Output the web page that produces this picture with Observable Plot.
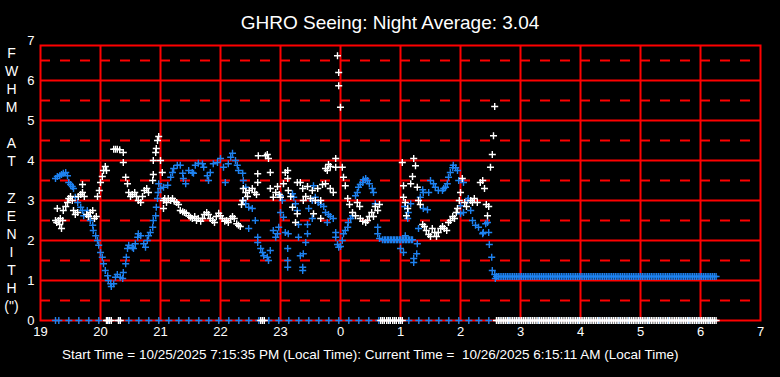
<!DOCTYPE html>
<html>
<head>
<meta charset="utf-8">
<script src="https://cdn.jsdelivr.net/npm/d3@7"></script>
<script src="https://cdn.jsdelivr.net/npm/@observablehq/plot@0.6"></script>
<style>
html, body { margin: 0; padding: 0; background: #000; }
#wrap { position: relative; width: 780px; height: 377px; background: #000; overflow: hidden;
  font-family: "Liberation Sans", Arial, sans-serif; color: #fff; }
#title { position: absolute; left: 0; top: 13px; width: 780px; text-align: center; font-size: 19px; line-height: 19px; white-space: nowrap; }
#ylab { position: absolute; left: 0; top: 44px; width: 23px; text-align: center; font-size: 14px; }
#ylab div { height: 18.07px; line-height: 18.07px; }
#caption { position: absolute; left: 62px; top: 348px; font-size: 13.5px; line-height: 14px; white-space: pre; }
#chart { position: absolute; left: 0; top: 0; }
</style>
</head>
<body>
<div id="wrap">
  <div id="chart"></div>
  <div id="title"></div>
  <div id="ylab"></div>
  <div id="caption"></div>
</div>
<script>
// ---- text ----
const titleText = "GHRO Seeing: Night Average: 3.04";
const yLabelLetters = ["F", "W", "H", "M", "", "A", "T", "", "Z", "E", "N", "I", "T", "H", "(\")"];
const captionText = "Start Time = 10/25/2025 7:15:35 PM (Local Time): Current Time =  10/26/2025 6:15:11 AM (Local Time)";

// ---- axes ----
const hourTicks = [19, 20, 21, 22, 23, 24, 25, 26, 27, 28, 29, 30, 31];   // shown as hour of day
const yTicks = [0, 1, 2, 3, 4, 5, 6, 7];
const majorY = [1, 2, 3, 4, 5, 6];
const minorY = [0.5, 1.5, 2.5, 3.5, 4.5, 5.5, 6.5];

// ---- blue series: [hour since 19:00 clock (24+ = after midnight), FWHM] ----
const bluePoints = [
[19.25,3.55],[19.28,3.6],[19.32,3.62],[19.35,3.65],[19.38,3.68],[19.42,3.7],[19.45,3.62],[19.47,3.45],[19.50,3.4],[19.53,3.35],
[19.55,3.3],[19.58,3.08],[19.62,2.95],[19.67,2.83],[19.70,2.75],[19.72,2.62],[19.78,2.75],[19.80,2.62],[19.83,2.5],[19.87,2.38],
[19.88,2.25],[19.92,2.12],[19.95,2.0],[19.97,1.88],[20.00,1.7],[20.03,1.58],[20.05,1.42],[20.08,1.25],[20.12,1.12],[20.13,1.0],
[20.17,0.92],[20.18,0.85],[20.22,0.92],[20.25,1.08],[20.28,1.15],[20.33,1.08],[20.37,1.05],[20.38,1.2],[20.42,1.42],[20.43,1.58],
[20.45,1.8],[20.47,1.88],[20.53,1.83],[20.55,1.8],[20.58,1.92],[20.62,2.08],[20.63,2.17],[20.67,2.12],[20.72,1.92],[20.75,1.83],
[20.78,2.0],[20.80,2.12],[20.83,2.2],[20.87,2.33],[20.88,2.5],[20.92,2.62],[20.93,2.83],[20.95,3.05],[20.96,3.2],[20.97,3.42],
[21.00,3.3],[21.05,3.33],[21.12,3.38],[21.17,3.58],[21.20,3.7],[21.22,3.8],[21.28,3.88],[21.33,3.88],[21.37,3.68],[21.38,3.55],
[21.42,3.42],[21.47,3.75],[21.53,3.7],[21.55,3.68],[21.58,3.88],[21.63,3.93],[21.70,3.92],[21.72,3.83],[21.78,3.62],[21.80,3.5],
[21.83,3.7],[21.88,3.92],[21.95,3.95],[22.00,4.05],[22.05,3.83],[22.08,3.45],[22.13,3.92],[22.17,4.08],[22.20,4.18],[22.25,4.0],
[22.28,3.88],[22.30,3.75],[22.37,3.68],[22.38,3.5],[22.42,3.33],[22.38,3.0],[22.42,2.92],[22.47,2.83],[22.53,2.8],[22.58,2.5],
[22.47,2.3],[22.62,2.08],[22.62,1.95],[22.67,1.8],[22.70,1.7],[22.72,1.62],[22.78,1.58],[22.80,1.5],[22.83,1.75],[22.88,2.25],
[22.92,2.08],[22.95,2.17],[22.97,2.33],[23.00,2.7],[23.00,3.12],[23.03,3.0],[23.05,2.58],[23.08,2.2],[23.12,1.8],[23.12,1.5],
[23.12,1.33],[23.13,2.17],[23.20,3.17],[23.22,3.08],[23.25,2.92],[23.28,2.75],[23.30,2.4],[23.30,2.08],[23.33,1.62],[23.37,1.33],
[23.37,1.25],[23.38,1.67],[23.42,1.95],[23.45,2.4],[23.45,2.17],[23.47,2.8],[23.53,3.0],[23.53,2.55],[23.55,3.37],[23.58,3.08],
[23.63,2.95],[23.67,2.9],[23.72,2.85],[23.75,2.7],[23.78,2.45],[23.80,2.65],[23.83,2.6],[23.88,2.55],[23.92,2.2],[23.92,2.08],
[23.95,1.9],[23.97,1.83],[24.00,1.85],[24.03,2.0],[24.05,2.17],[24.08,2.25],[24.12,2.33],[24.13,2.45],[24.17,2.55],[24.20,2.62],
[24.25,3.12],[24.28,3.2],[24.30,3.33],[24.33,3.4],[24.37,3.45],[24.38,3.52],[24.42,3.55],[24.45,3.5],[24.48,3.42],[24.53,3.3],
[24.55,3.2],[24.58,2.92],[24.62,2.33],[24.62,2.17],[24.65,2.05],
[24.70,2.02],[24.73,2.02],[24.75,2.02],[24.78,2.02],[24.80,2.02],[24.83,2.02],[24.85,2.02],[24.88,2.02],[24.90,2.02],[24.93,2.02],
[24.95,2.02],[24.98,2.02],[25.00,2.02],[25.03,2.02],[25.05,2.02],[25.08,2.02],[25.10,2.02],[25.13,2.02],[25.15,2.02],[25.18,2.02],[25.20,2.02],
[25.00,1.8],[25.05,1.7],[25.07,2.85],[25.08,2.12],[25.12,2.55],[25.13,2.7],[25.17,2.92],[25.22,1.55],[25.22,1.45],[25.27,1.67],
[25.28,1.92],[25.30,2.3],[25.33,3.08],[25.37,3.27],[25.38,3.2],[25.38,2.8],[25.45,2.77],[25.47,3.2],[25.50,3.5],[25.55,3.42],
[25.58,3.33],[25.63,3.25],[25.70,3.25],[25.72,3.3],[25.75,3.33],[25.78,3.42],[25.80,3.58],[25.83,3.7],[25.87,3.82],[25.88,3.88],
[25.92,3.82],[25.95,3.75],[25.97,3.5],[26.05,3.45],[26.00,2.87],[26.00,2.67],[26.05,2.7],[26.12,3.0],[26.13,3.05],[26.17,2.75],
[26.20,2.5],[26.25,2.38],[26.30,2.33],[26.37,2.17],[26.38,2.2],[26.42,2.42],[26.45,2.45],[26.47,2.2],[26.48,1.9],[26.52,1.58],
[26.53,1.25],[26.57,1.15],[26.58,1.05]
];
// blue flat stretch after 02:36 (constant value)
const blueFlatStart = 26.60, blueFlatEnd = 30.28, blueFlatValue = 1.1;

// ---- white series ----
const whitePoints = [
[19.25,2.5],[19.27,2.45],[19.28,2.8],[19.30,2.5],[19.32,2.4],[19.33,2.55],[19.35,2.3],[19.37,2.5],[19.38,2.75],[19.42,2.85],
[19.45,2.95],[19.47,3.05],[19.50,3.1],[19.53,3.0],[19.55,2.75],[19.58,2.65],[19.62,2.7],[19.63,3.1],[19.67,3.15],[19.70,3.2],
[19.70,3.4],[19.73,3.1],[19.77,2.65],[19.80,2.6],[19.83,2.7],[19.87,2.75],[19.90,2.55],[19.93,2.6],[19.95,3.1],[19.98,3.25],
[20.00,3.45],[20.03,3.6],[20.05,3.75],[20.08,3.85],[20.10,3.75],[20.22,4.28],[20.25,4.28],[20.28,4.28],[20.32,4.27],[20.38,4.2],
[20.38,3.95],[20.42,3.58],[20.45,3.42],[20.47,3.2],[20.50,3.1],[20.53,3.15],[20.57,3.2],[20.60,3.1],[20.63,3.0],[20.67,2.95],
[20.70,3.1],[20.73,3.25],[20.77,3.3],[20.80,3.2],[20.87,3.5],[20.88,3.65],[20.88,4.0],[20.92,4.2],[20.93,4.3],[20.95,4.5],
[20.97,4.6],[21.00,4.0],[21.03,3.7],[21.05,3.0],[21.05,2.8],[21.07,3.05],[21.10,2.95],[21.13,3.05],[21.17,3.0],[21.20,3.05],
[21.23,2.98],[21.27,2.95],[21.30,2.9],[21.33,2.75],[21.37,2.72],[21.40,2.7],[21.43,2.68],[21.47,2.62],[21.50,2.58],[21.53,2.55],
[21.57,2.6],[21.60,2.5],[21.63,2.55],[21.67,2.48],[21.70,2.55],[21.73,2.65],[21.77,2.7],[21.80,2.65],[21.83,2.55],[21.87,2.5],
[21.90,2.45],[21.93,2.6],[21.97,2.68],[22.00,2.62],[22.03,2.55],[22.07,2.48],[22.10,2.5],[22.13,2.45],[22.17,2.55],[22.20,2.6],
[22.23,2.55],[22.27,2.42],[22.30,2.38],[22.33,2.35],[22.35,2.9],[22.37,3.0],[22.38,3.3],[22.42,3.2],[22.45,3.1],[22.48,3.25],
[22.53,3.3],[22.57,3.2],[22.60,3.15],[22.62,3.45],[22.62,3.67],[22.63,4.12],[22.75,4.12],[22.78,4.15],[22.80,4.05],[22.83,3.7],
[22.83,3.3],[22.88,3.08],[22.92,3.2],[22.95,3.35],[22.98,3.15],
[23.00,3.08],[23.05,3.42],[23.08,3.7],[23.12,3.75],[23.12,3.55],[23.13,3.25],[23.17,3.1],[23.20,2.83],[23.25,2.45],[23.28,2.67],
[23.28,3.45],[23.33,3.45],[23.37,3.3],[23.38,3.0],[23.42,3.1],[23.45,3.35],[23.50,3.05],[23.53,3.25],[23.55,2.67],[23.58,3.0],
[23.62,3.3],[23.67,2.55],[23.67,3.0],[23.70,3.4],[23.75,3.8],[23.75,3.42],[23.78,3.75],[23.80,3.9],[23.83,3.85],[23.83,3.3],
[23.88,3.2],[23.92,4.05],[23.92,3.83],[23.95,6.62],[23.97,6.2],[23.97,5.87],[24.00,5.33],[24.03,3.83],[24.05,3.58],[24.08,3.37],
[24.12,3.05],[24.15,2.9],[24.20,2.7],[24.25,2.62],[24.28,2.95],[24.32,2.85],[24.33,2.55],[24.37,2.48],[24.42,2.45],[24.45,2.5],
[24.48,2.6],[24.52,2.7],[24.55,2.6],[24.58,2.85],[24.62,2.75],[24.65,2.9],
[25.03,3.95],[25.05,3.37],[25.05,3.08],[25.08,2.95],[25.10,2.62],[25.12,2.8],[25.17,3.42],[25.20,3.6],[25.22,4.05],[25.25,3.87],
[25.28,3.33],[25.30,3.0],[25.33,2.9],[25.37,2.4],[25.40,2.35],[25.43,2.25],[25.47,2.15],[25.50,2.1],[25.53,2.3],[25.57,2.2],
[25.60,2.1],[25.63,2.2],[25.67,2.3],[25.70,2.35],[25.73,2.3],[25.77,2.25],[25.80,2.45],[25.83,2.5],[25.87,2.6],[25.90,2.55],
[25.93,2.7],[25.95,2.8],[25.98,3.0],[26.00,3.2],[26.03,3.55],[26.07,2.95],[26.10,2.85],[26.17,3.0],[26.20,2.95],[26.23,3.05],
[26.28,2.95],[26.33,3.45],[26.37,3.5],[26.40,3.3],[26.43,2.9],[26.45,2.62],[26.47,2.85],[26.50,3.83],[26.53,4.15],[26.55,4.62],
[26.57,5.35]
];
// white readings sitting on zero
const whiteZeroHours = [20.10,20.12,20.15,20.18,20.30,20.33,22.67,22.70,22.73,24.67,24.70,24.73,24.77,24.80,24.83,24.87,24.90,24.93,24.97,25.00,25.03];
const whiteZeroStart = 26.60, whiteZeroEnd = 30.28;
// blue zero row: one reading every 10 minutes on the logging clock
const blueZeroExtra = [19.25];
const blueZeroStart = 19.305, blueZeroEnd = 30.2, blueZeroStep = 1 / 6;

const BLUE = "#1e82f0";
const RED = "#ff0000";

// ---- build ----
document.getElementById("title").textContent = titleText;
document.getElementById("caption").textContent = captionText;
const yl = document.getElementById("ylab");
for (const ch of yLabelLetters) { const d = document.createElement("div"); d.textContent = ch || "\u00a0"; yl.appendChild(d); }

const blueData = bluePoints.map(([h, v]) => ({h, v}));
const whiteData = whitePoints.map(([h, v]) => ({h, v}));
const blueFlat = d3.range(blueFlatStart, blueFlatEnd, 0.03).map(h => ({h, v: blueFlatValue}));
const whiteZero = whiteZeroHours.concat(d3.range(whiteZeroStart, whiteZeroEnd, 0.03)).map(h => ({h, v: 0}));
const blueZero = blueZeroExtra.concat(d3.range(blueZeroStart, blueZeroEnd, blueZeroStep)).map(h => ({h, v: 0}));

const dotOpts = {x: "h", y: "v", symbol: "plus", r: 2.4, strokeWidth: 1.4};

const chart = Plot.plot({
  width: 780,
  height: 377,
  marginLeft: 40,
  marginRight: 20,
  marginTop: 45,
  marginBottom: 57,
  style: {background: "transparent", color: "white", fontFamily: "'Liberation Sans', Arial, sans-serif"},
  x: {domain: [19, 31]},
  y: {domain: [0, 6.875]},
  marks: [
    Plot.ruleY(minorY, {stroke: RED, strokeWidth: 2, strokeDasharray: "10,10"}),
    Plot.ruleY(majorY, {stroke: RED, strokeWidth: 2}),
    Plot.ruleX(hourTicks.slice(1, -1), {stroke: RED, strokeWidth: 2}),
    Plot.frame({stroke: RED, strokeWidth: 2}),
    Plot.axisX({ticks: hourTicks, tickFormat: h => String(h % 24), tickSize: 0, tickPadding: 6, fill: "white", fontSize: 13, label: null}),
    Plot.axisY({ticks: yTicks, tickFormat: d => String(d), tickSize: 0, tickPadding: 6, fill: "white", fontSize: 13, label: null}),
    Plot.dot(blueData, {...dotOpts, stroke: BLUE}),
    Plot.dot(whiteData, {...dotOpts, stroke: "white"}),
    Plot.dot(blueFlat, {...dotOpts, stroke: BLUE}),
    Plot.dot(blueZero, {...dotOpts, stroke: BLUE}),
    Plot.dot(whiteZero, {...dotOpts, stroke: "white"})
  ]
});
document.getElementById("chart").appendChild(chart);
</script>
</body>
</html>
